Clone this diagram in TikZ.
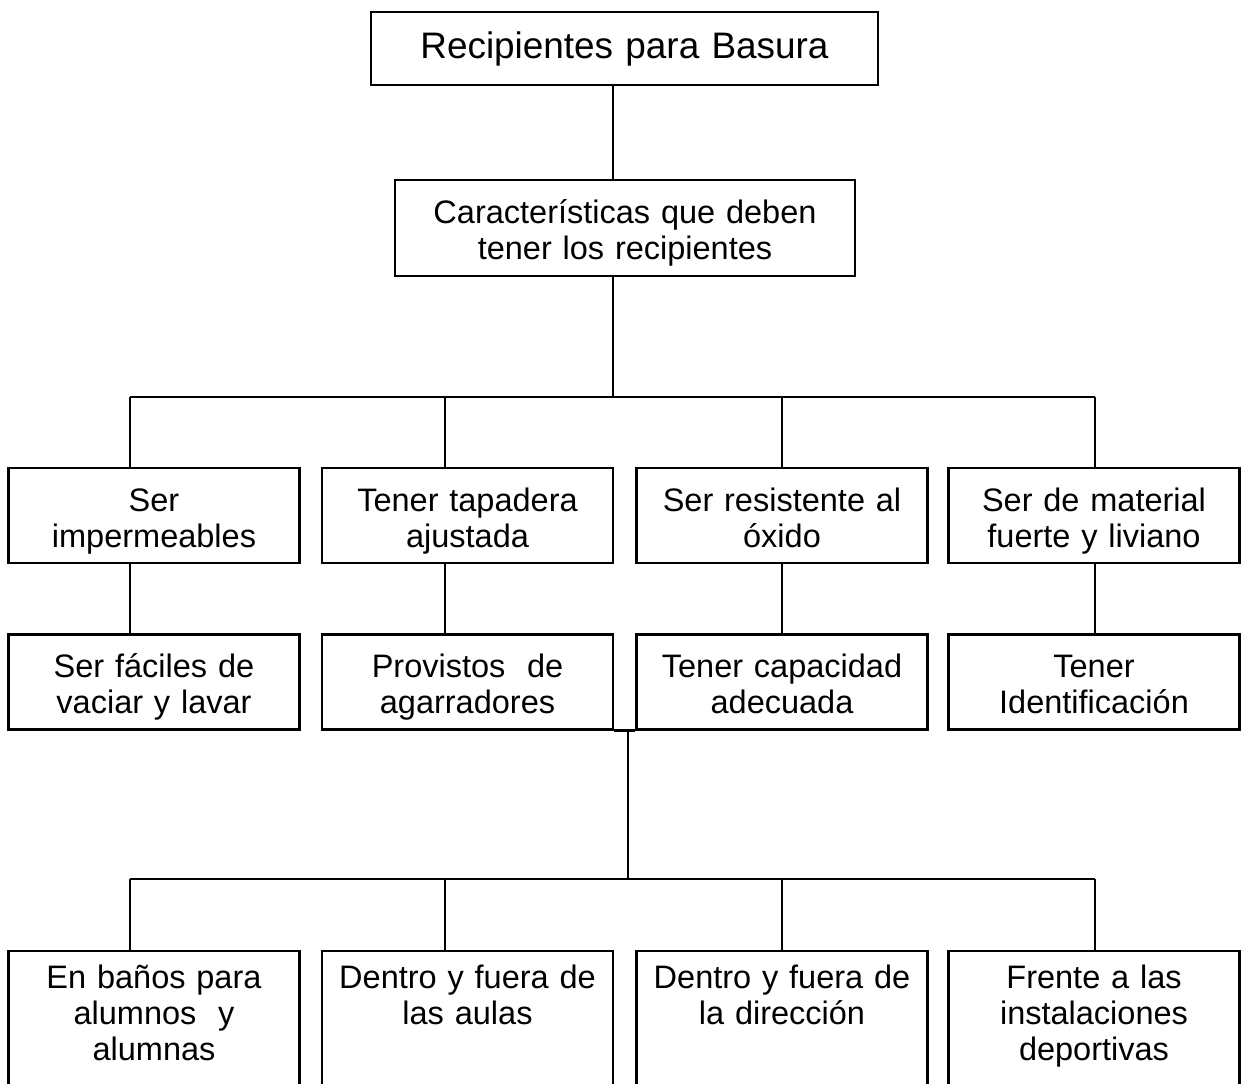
\documentclass[tikz,border=0pt]{standalone}
\usepackage{fontspec}
\setmainfont{Liberation Sans}
\tikzstyle{block}=[draw,line width=1.3pt,minimum width=5.82cm,minimum height=1.9cm,inner sep=0pt,text width=5.6cm,align=center,text height=0.5cm,text depth=0.674cm,font=\fontsize{18.5}{20.5}\selectfont]
\tikzstyle{place}=[block,anchor=north,minimum height=0pt,text height=0.74cm,text depth=2.6cm]
\tikzstyle{link}=[line width=1.3pt]

\begin{document}
\begin{tikzpicture}[x=0.02cm,y=-0.02cm]
    \useasboundingbox (0,0) rectangle (1241,1084);
    \clip (0,0) rectangle (1241,1084);
    \node (title)[block,minimum width=10.14cm,minimum height=1.46cm,text width=9.8cm,text height=,text depth=,font=\fontsize{21}{24}\selectfont] at (624.5,48.5) {Recipientes para Basura};
    \node (chars)[block,minimum width=9.2cm,minimum height=1.92cm,text width=9cm] at (625,228) {Características que deben\\tener los recipientes};
    \node (feat1)[block] at (154,515.5) {Ser\\impermeables};
    \node (feat2)[block] at (467.5,515.5) {Tener tapadera\\ajustada};
    \node (feat3)[block] at (782,515.5) {Ser resistente al\\óxido};
    \node (feat4)[block] at (1094,515.5) {Ser de material\\fuerte y liviano};
    \node (sub1)[block] at (154,682) {Ser fáciles de\\vaciar y lavar};
    \node (sub2)[block] at (467.5,682) {Provistos\ \ de\\agarradores};
    \node (sub3)[block] at (782,682) {Tener capacidad\\adecuada};
    \node (sub4)[block] at (1094,682) {Tener\\Identificación};
    \node (place1)[place] at (154,950) {En baños para\\alumnos\ \ y\\alumnas};
    \node (place2)[place] at (467.5,950) {Dentro y fuera de\\las aulas};
    \node (place3)[place] at (782,950) {Dentro y fuera de\\la dirección};
    \node (place4)[place] at (1094,950) {Frente a las\\instalaciones\\deportivas};
    \coordinate (spine) at (613,0);
    \coordinate (bus1) at (0,397);
    \coordinate (knot) at (628,0);
    \coordinate (bus2) at (0,879);
    \foreach \i/\x in {1/130,2/445,3/782,4/1095} \coordinate (d\i) at (\x,0);
    \draw[link] (title.south -| spine) -- (chars.north -| spine);
    \draw[link] (chars.south -| spine) -- (bus1 -| spine);
    \draw[link] (bus1 -| d1) -- (bus1 -| d4);
    \draw[link] (sub2.south east) -- (sub3.south west);
    \draw[link] (sub2.south -| knot) -- (bus2 -| knot);
    \draw[link] (bus2 -| d1) -- (bus2 -| d4);
    \foreach \i in {1,...,4} {
        \draw[link] (bus1 -| d\i) -- (feat\i.north -| d\i);
        \draw[link] (feat\i.south -| d\i) -- (sub\i.north -| d\i);
        \draw[link] (bus2 -| d\i) -- (place\i.north -| d\i);
    }
\end{tikzpicture}
\end{document}
